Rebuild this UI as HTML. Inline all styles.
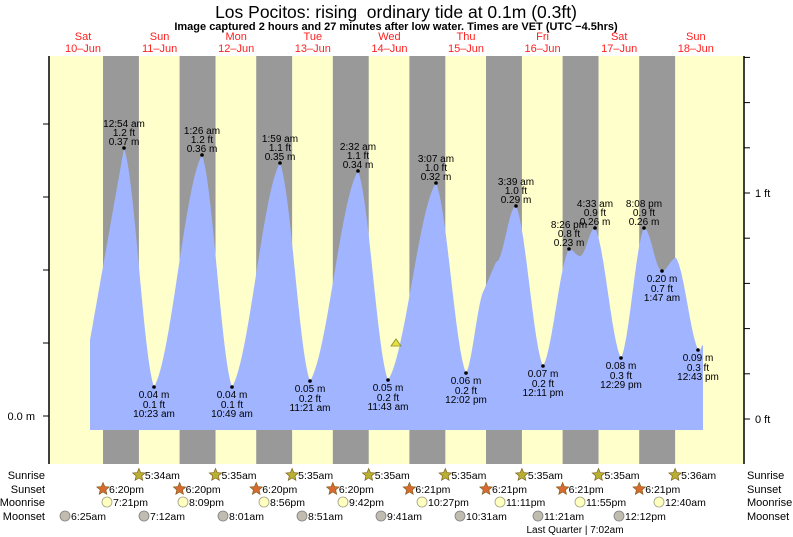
<!DOCTYPE html>
<html><head><meta charset="utf-8"><style>
body{margin:0;background:#fff;}
svg{display:block;font-family:"Liberation Sans",sans-serif;}
</style></head><body>
<svg id="s" width="793" height="537" viewBox="0 0 793 537" xmlns="http://www.w3.org/2000/svg">
<rect x="0" y="0" width="793" height="537" fill="#fff"/>
<rect x="49" y="56" width="695" height="408" fill="#ffffcc"/>
<g id="bands" fill="#999999"></g>
<path id="tide" fill="#a0b4ff" d=""/>
<line x1="49" y1="56" x2="49" y2="464" stroke="#000" stroke-width="1.5"/>
<line x1="744" y1="56" x2="744" y2="464" stroke="#000" stroke-width="1.5"/>
<g id="ticks" stroke="#000" stroke-width="1"></g>
<text x="396" y="18" font-size="17.5" text-anchor="middle" xml:space="preserve">Los Pocitos: rising  ordinary tide at 0.1m (0.3ft)</text>
<text x="396" y="30" font-size="11" font-weight="bold" text-anchor="middle">Image captured 2 hours and 27 minutes after low water. Times are VET (UTC −4.5hrs)</text>
<g id="days" font-size="11" fill="#ff2020" text-anchor="middle"></g>
<text x="35" y="420" font-size="11" text-anchor="end">0.0 m</text>
<text x="755" y="423" font-size="11">0 ft</text>
<text x="755" y="197" font-size="11">1 ft</text>
<g id="lbl" font-size="10" text-anchor="middle" fill="#000"></g>
<polygon points="391,346 396,339 401,346" fill="#e8e040" stroke="#8a8a20" stroke-width="0.8"/>
<g font-size="11" fill="#000">
<text x="45" y="479" text-anchor="end">Sunrise</text>
<text x="45" y="493" text-anchor="end">Sunset</text>
<text x="45" y="506" text-anchor="end">Moonrise</text>
<text x="45" y="520" text-anchor="end">Moonset</text>
<text x="747" y="479">Sunrise</text>
<text x="747" y="493">Sunset</text>
<text x="747" y="506">Moonrise</text>
<text x="747" y="520">Moonset</text>
</g>
<g id="astro" font-size="10.5" fill="#000"></g>
<text x="575" y="533" font-size="10" text-anchor="middle">Last Quarter | 7:02am</text>
</svg>
<script>
var NS="http://www.w3.org/2000/svg";
function el(p,t,a,txt){var e=document.createElementNS(NS,t);for(var k in a)e.setAttribute(k,a[k]);if(txt!=null)e.textContent=txt;document.getElementById(p).appendChild(e);return e;}
var O=44.5,D=76.6;
function X(day,h,m){return O+day*D+(h+m/60)/24*D;}
for(var d=0;d<8;d++){var a=X(d,18,20),b=X(d+1,5,35);el("bands","rect",{x:a,y:56,width:b-a,height:408});}
var dn=["Sat","Sun","Mon","Tue","Wed","Thu","Fri","Sat","Sun"];
for(var d=0;d<9;d++){var cx=83+d*D;el("days","text",{x:cx,y:40},dn[d]);el("days","text",{x:cx,y:52},(10+d)+"–Jun");}
for(var k=0;k<6;k++){var y=416-73*k;if(y>56)el("ticks","line",{x1:43,y1:y,x2:49,y2:y});}
for(var k=0;k<9;k++){var y=419-45.2*k;if(y>56)el("ticks","line",{x1:744,y1:y,x2:750,y2:y});}
var P=[[90,340],[124,148],[154,387],[202,155],[232,387],[280,163],[310,381],[358,171],[388,380],[436,183],[466,373],[484,290],[496,262],[516,206],[543,366],[569,249],[580,256],[595,228],[621,358],[644,228],[662,271],[676,258],[699,351],[703,345]];
var d="M90,430 L90,340";
for(var i=0;i<P.length-1;i++){var a=P[i],b=P[i+1];var w=(Math.abs(b[1]-a[1])>60)?0.35:0;for(var j=1;j<=30;j++){var t=j/30;var x=a[0]+(b[0]-a[0])*t;var f=w*t+(1-w)*(1-Math.cos(Math.PI*t))/2;if(i==0||i==11)f=t;var y=a[1]+(b[1]-a[1])*f;d+=" L"+x.toFixed(1)+","+y.toFixed(1);}}
d+=" L703,430 Z";document.getElementById("tide").setAttribute("d",d);
var H=[[124,148,"12:54 am","1.2 ft","0.37 m"],[202,155,"1:26 am","1.2 ft","0.36 m"],[280,163,"1:59 am","1.1 ft","0.35 m"],[358,171,"2:32 am","1.1 ft","0.34 m"],[436,183,"3:07 am","1.0 ft","0.32 m"],[516,206,"3:39 am","1.0 ft","0.29 m"],[569,249,"8:26 pm","0.8 ft","0.23 m"],[595,228,"4:33 am","0.9 ft","0.26 m"],[644,228,"8:08 pm","0.9 ft","0.26 m"]];
H.forEach(function(h){el("lbl","circle",{cx:h[0],cy:h[1],r:1.8});el("lbl","text",{x:h[0],y:h[1]-21},h[2]);el("lbl","text",{x:h[0],y:h[1]-12},h[3]);el("lbl","text",{x:h[0],y:h[1]-3},h[4]);});
var L=[[154,387,"0.04 m","0.1 ft","10:23 am"],[232,387,"0.04 m","0.1 ft","10:49 am"],[310,381,"0.05 m","0.2 ft","11:21 am"],[388,380,"0.05 m","0.2 ft","11:43 am"],[466,373,"0.06 m","0.2 ft","12:02 pm"],[543,366,"0.07 m","0.2 ft","12:11 pm"],[621,358,"0.08 m","0.3 ft","12:29 pm"],[662,271,"0.20 m","0.7 ft","1:47 am"],[698,350,"0.09 m","0.3 ft","12:43 pm"]];
L.forEach(function(h){el("lbl","circle",{cx:h[0],cy:h[1],r:1.8});el("lbl","text",{x:h[0],y:h[1]+11},h[2]);el("lbl","text",{x:h[0],y:h[1]+21},h[3]);el("lbl","text",{x:h[0],y:h[1]+30},h[4]);});
function star(cx,cy,fill){var s="";for(var i=0;i<10;i++){var r=i%2?3:6.5;var an=-Math.PI/2+i*Math.PI/5;s+=(cx+r*Math.cos(an)).toFixed(1)+","+(cy+r*Math.sin(an)).toFixed(1)+" ";}el("astro","polygon",{points:s,fill:fill,stroke:"#806020","stroke-width":0.7});}
var sr=["5:34am","5:35am","5:35am","5:35am","5:35am","5:35am","5:35am","5:36am"];
for(var i=0;i<8;i++){var x=X(i+1,5,35);star(x,475,"#b8b030");el("astro","text",{x:x+6,y:479},sr[i]);}
var ss=["6:20pm","6:20pm","6:20pm","6:20pm","6:21pm","6:21pm","6:21pm","6:21pm"];
for(var i=0;i<8;i++){var x=X(i,18,20);star(x,489,"#d86a30");el("astro","text",{x:x+6,y:493},ss[i]);}
var mr=[[107,"7:21pm"],[183,"8:09pm"],[264,"8:56pm"],[343,"9:42pm"],[422,"10:27pm"],[500,"11:11pm"],[580,"11:55pm"],[659,"12:40am"]];
mr.forEach(function(m){el("astro","circle",{cx:m[0],cy:502,r:5,fill:"#ffffc0",stroke:"#a0a080","stroke-width":0.8});el("astro","text",{x:m[0]+6,y:506},m[1]);});
var ms=[[65,"6:25am"],[144,"7:12am"],[223,"8:01am"],[302,"8:51am"],[381,"9:41am"],[460,"10:31am"],[538,"11:21am"],[619,"12:12pm"]];
ms.forEach(function(m){el("astro","circle",{cx:m[0],cy:516,r:5,fill:"#c0bcb0",stroke:"#808080","stroke-width":0.8});el("astro","text",{x:m[0]+6,y:520},m[1]);});
</script>
</body></html>
